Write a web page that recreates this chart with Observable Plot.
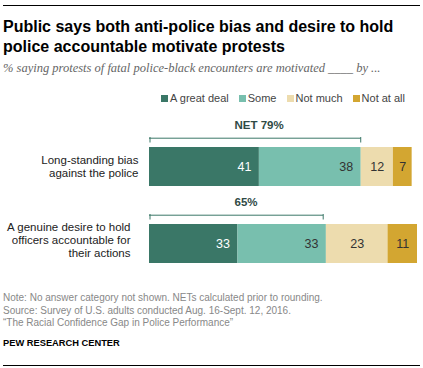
<!DOCTYPE html>
<html>
<head>
<meta charset="utf-8">
<script src="https://cdn.jsdelivr.net/npm/d3@7"></script>
<script src="https://cdn.jsdelivr.net/npm/@observablehq/plot@0.6"></script>
<style>
  html, body { margin: 0; padding: 0; background: #fff; }
  #page { position: relative; width: 423px; height: 368px; overflow: hidden; font-family: "Liberation Sans", Arial, sans-serif; }
  .rule { position: absolute; left: 3px; width: 417px; height: 1px; background: #000; }
  #title { position: absolute; left: 3px; top: 17px; font-size: 16px; line-height: 20px; font-weight: bold; color: #000; white-space: nowrap; }
  #subtitle { position: absolute; left: 3px; top: 61px; font-family: "Liberation Serif", "Times New Roman", serif; font-style: italic; font-size: 12.5px; color: #666; white-space: nowrap; }
  #legend { position: absolute; right: 18px; top: 92px; font-size: 11px; color: #444; white-space: nowrap; display: flex; gap: 10px; }
  #legend span.sw { display: inline-block; width: 7px; height: 7px; margin-right: 2px; vertical-align: 0px; }
  #chart { position: absolute; left: 0; top: 110px; }
  #footer { position: absolute; left: 3px; top: 292px; font-size: 10px; line-height: 12.7px; color: #888; white-space: nowrap; }
  #credit { position: absolute; left: 3px; top: 338px; font-size: 9.3px; font-weight: bold; color: #000; }
</style>
</head>
<body>
<div id="page">
  <div class="rule" style="top:5px"></div>
  <div id="title">Public says both anti-police bias and desire to hold<br>police accountable  motivate protests</div>
  <div id="subtitle">% saying protests of fatal police-black encounters are motivated ____ by ...</div>
  <div id="legend"></div>
  <div id="chart"></div>
  <div id="footer">Note: No answer category not shown. NETs calculated prior to rounding.<br>Source: Survey of U.S. adults conducted Aug. 16-Sept. 12, 2016.<br>“The Racial Confidence Gap in Police Performance”</div>
  <div id="credit">PEW RESEARCH CENTER</div>
  <div class="rule" style="top:365px"></div>
</div>
<script>
// ---- data ----
const questions = [
  "Long-standing bias against the police",
  "A genuine desire to hold officers accountable for their actions"
];
const questionLabels = [
  "Long-standing bias\nagainst the police",
  "A genuine desire to hold\nofficers accountable for\ntheir actions"
];
const responses = ["A great deal", "Some", "Not much", "Not at all"];
const greatDeal = [41, 33];
const some = [38, 33];
const notMuch = [12, 23];
const notAtAll = [7, 11];
const netValues = [79, 65];
const netLabels = ["NET 79%", "65%"];
const colors = ["#3a7767", "#78bfae", "#eddcae", "#d3a631"];

// ---- build tables ----
const series = [greatDeal, some, notMuch, notAtAll];
const rows = [];
questions.forEach((q, i) => {
  responses.forEach((r, j) => rows.push({question: q, response: r, value: series[j][i]}));
});
const nets = questions.map((q, i) => ({question: q, net: netValues[i], label: netLabels[i], text: questionLabels[i], idx: i}));

// ---- legend ----
const legend = document.getElementById("legend");
responses.forEach((r, j) => {
  const item = document.createElement("span");
  item.innerHTML = `<span class="sw" style="background:${colors[j]}"></span>${r}`;
  legend.appendChild(item);
});

// ---- chart ----
const stackOpts = {x: "value", y: "question", z: "response", order: responses};
const chart = Plot.plot({
  width: 423,
  height: 160,
  margin: 0,
  style: {fontFamily: "Liberation Sans, Arial, sans-serif", background: "transparent", overflow: "visible"},
  x: {domain: [0, 100], range: [149, 417], axis: null},
  y: {domain: questions, range: [17.5, 172.5], paddingInner: 0.5, paddingOuter: 0.25, axis: null},
  color: {domain: responses, range: colors},
  marks: [
    Plot.barX(rows, {...stackOpts, fill: "response"}),
    // values right-aligned in the first two segments
    Plot.text(rows, Plot.stackX2({...stackOpts,
      text: d => (d.response === responses[0] || d.response === responses[1]) ? String(d.value) : "",
      textAnchor: "end", dx: -8, fontSize: 12.5,
      fill: d => d.response === responses[0] ? "#fff" : "#333"})),
    // values centered in the last two segments
    Plot.text(rows, Plot.stackX({...stackOpts,
      text: d => (d.response === responses[2] || d.response === responses[3]) ? String(d.value) : "",
      fontSize: 12.5, fill: "#333"})),
    // NET brackets
    Plot.ruleY(nets, {y: "question", x1: 0, x2: "net", dy: -28.8, stroke: "#3a7767", strokeWidth: 1}),
    Plot.tickX(nets, {x: () => 0, y: "question", dx: 0.5, dy: -10, insetTop: 0, insetBottom: 33.5, stroke: "#3a7767"}),
    Plot.tickX(nets, {x: "net", y: "question", dx: -0.5, dy: -10, insetTop: 0, insetBottom: 33.5, stroke: "#3a7767"}),
    Plot.text(nets, {x: () => 0, y: "question", text: "label", textAnchor: "start", dx: 85, dy: -41.5,
      fontWeight: "bold", fontSize: 11.5, fill: "#2f4a45"}),
    // category labels
    Plot.text(nets.filter(d => d.idx === 0), {x: () => 0, y: "question", text: "text", textAnchor: "end",
      dx: -11, dy: -1, fontSize: 11.5, lineHeight: 1.2, fill: "#222"}),
    Plot.text(nets.filter(d => d.idx === 1), {x: () => 0, y: "question", text: "text", textAnchor: "end",
      dx: -19, dy: -4, fontSize: 11.5, lineHeight: 1.15, fill: "#222"})
  ]
});
document.getElementById("chart").appendChild(chart);
</script>
</body>
</html>
